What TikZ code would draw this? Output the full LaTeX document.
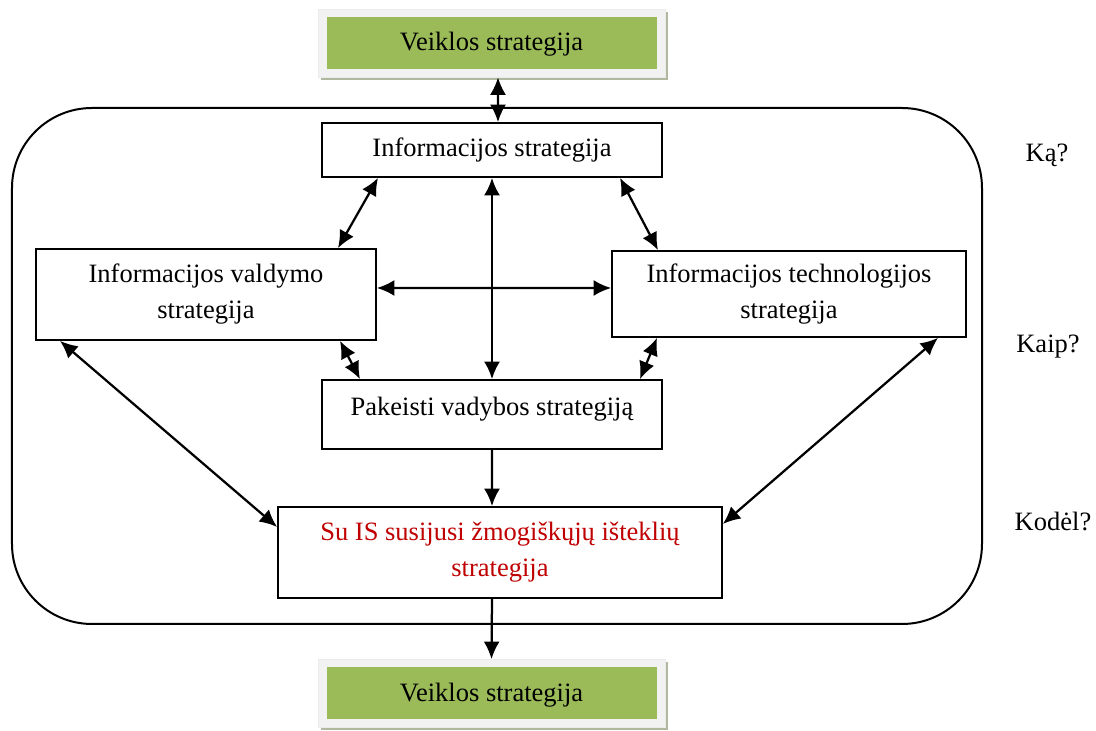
\documentclass[tikz,border=0pt]{standalone}
\usepackage{fontspec}
\setmainfont{Liberation Serif}
\usetikzlibrary{arrows.meta,shadows}
\definecolor{vgreen}{HTML}{9BBB59}
\definecolor{vframe}{HTML}{F2F2F2}
\definecolor{vshadow}{HTML}{B0B8A0}
\definecolor{isred}{HTML}{C00000}
\begin{document}
\begin{tikzpicture}[
  x=0.4pt, y=-0.4pt,
  font=\fontsize{10.6}{14.4}\selectfont,
  box/.style={rectangle, draw, line width=0.7pt, fill=white, align=center, inner sep=0pt},
  goal/.style={rectangle, draw=black!8, line width=0.3pt, fill=vframe, inner sep=0pt,
    minimum width=138.8pt, minimum height=27.2pt, text height=8.6pt, text depth=2.2pt,
    drop shadow={shadow xshift=1.2pt, shadow yshift=-1.2pt, fill=vshadow, opacity=1},
    path picture={\fill[vgreen] ([shift={(3.6pt,3.2pt)}]path picture bounding box.south west)
      rectangle ([shift={(-3.2pt,-3.2pt)}]path picture bounding box.north east);}},
  link/.style={{Latex[length=7pt,width=6.4pt]}-{Latex[length=7pt,width=6.4pt]}, line width=0.9pt},
  flow/.style={-{Latex[length=7pt,width=6.4pt]}, line width=0.9pt},
  side/.style={font=\fontsize{10.6}{14.4}\selectfont}
]
  \useasboundingbox (0,0) rectangle (1096,731);
  % frame
  \draw[line width=0.8pt, rounded corners=32pt] (12,108) rectangle (982,624);

  \node[goal] (topg) at (491.5,43) {Veiklos strategija};
  \node[goal] (botg) at (491.5,693.5) {Veiklos strategija};

  \node[box, minimum width=136pt, minimum height=21.6pt] (info) at (492,150) {Informacijos strategija};
  \node[box, minimum width=136pt, minimum height=36.4pt] (mgmt) at (206,294.5) {Informacijos valdymo\\strategija};
  \node[box, minimum width=141.6pt, minimum height=34.4pt] (tech) at (789,294) {Informacijos technologijos\\strategija};
  \node[box, minimum width=136pt, text height=14.4pt, text depth=13.2pt] (pak) at (492,414.5) {Pakeisti vadybos strategiją};
  \node[box, minimum width=177.6pt, minimum height=36.4pt, text=isred] (hr) at (500,552.5) {Su IS susijusi žmogiškųjų išteklių\\strategija};

  \node[side] (ka) at (1047,155) {Ką?};
  \node[side] (kaip) at (1048,347) {Kaip?};
  \node[side] (kodel) at (1053,521) {Kodėl?};

  % connectors
  \draw[link] ([xshift=2.6pt]topg.south) -- ([xshift=2.4pt]info.north);
  \draw[link] ([xshift=-45.6pt]info.south) -- ([xshift=52.8pt]mgmt.north);
  \draw[link] ([xshift=51.2pt]info.south) -- ([xshift=-52.4pt]tech.north);
  \draw[link] (info.south) -- (pak.north);
  \draw[link] ([yshift=2.6pt]mgmt.east) -- ([yshift=2.4pt]tech.west);
  \draw[link] ([xshift=53.6pt]mgmt.south) -- ([xshift=-52.8pt]pak.north);
  \draw[link] ([xshift=-52.8pt]tech.south) -- ([xshift=59.2pt]pak.north);
  \draw[link] ([xshift=-58.4pt]mgmt.south) -- ([yshift=10.2pt]hr.west);
  \draw[link] ([xshift=59.6pt]tech.south) -- ([yshift=11.4pt]hr.east);
  \draw[flow] (pak.south) -- ([xshift=-3.2pt]hr.north);
  \draw[flow] ([xshift=-3.2pt]hr.south) -- (botg.north);
\end{tikzpicture}
\end{document}
